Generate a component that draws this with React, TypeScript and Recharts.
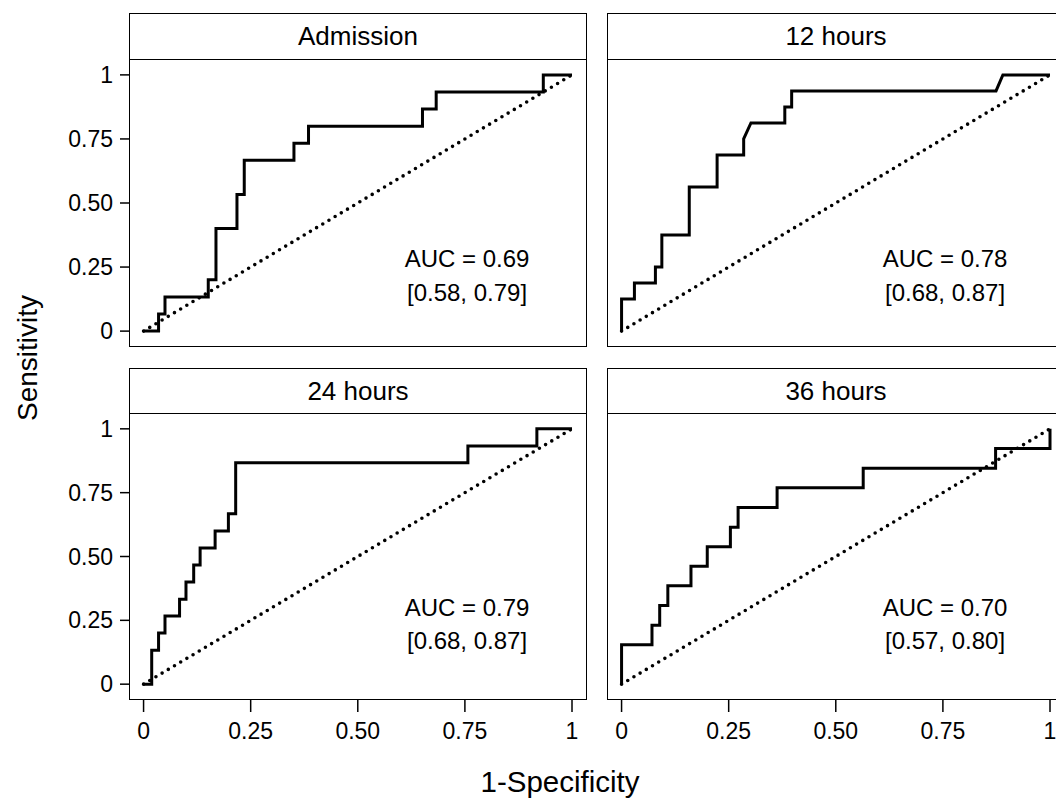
import React from 'react';
import { LineChart, Line, XAxis, YAxis, ReferenceDot } from 'recharts';

const FONT = '"Liberation Sans", Arial, Helvetica, sans-serif';

// panel titles and annotation text
const panelTitles = ['Admission', '12 hours', '24 hours', '36 hours'];
const aucLabels = ['AUC = 0.69', 'AUC = 0.78', 'AUC = 0.79', 'AUC = 0.70'];
const ciLabels = ['[0.58, 0.79]', '[0.68, 0.87]', '[0.68, 0.87]', '[0.57, 0.80]'];

// shared ticks for both axes
const axisTicks = [0, 0.25, 0.5, 0.75, 1];
const tickLabels = ['0', '0.25', '0.50', '0.75', '1'];

// ROC curves: 1-specificity (x) vs sensitivity (y)
const admissionX = [0, 0.035, 0.035, 0.05, 0.05, 0.151, 0.151, 0.169, 0.169, 0.218, 0.218, 0.235, 0.235, 0.351, 0.351, 0.385, 0.385, 0.651, 0.651, 0.683, 0.683, 0.933, 0.933, 1];
const admissionY = [0, 0, 0.067, 0.067, 0.133, 0.133, 0.2, 0.2, 0.4, 0.4, 0.533, 0.533, 0.667, 0.667, 0.733, 0.733, 0.8, 0.8, 0.867, 0.867, 0.933, 0.933, 1, 1];

const h12X = [0, 0, 0.03, 0.03, 0.079, 0.079, 0.094, 0.094, 0.158, 0.158, 0.223, 0.223, 0.285, 0.285, 0.302, 0.381, 0.381, 0.397, 0.397, 0.874, 0.89, 1];
const h12Y = [0, 0.125, 0.125, 0.1875, 0.1875, 0.25, 0.25, 0.375, 0.375, 0.5625, 0.5625, 0.6875, 0.6875, 0.75, 0.8125, 0.8125, 0.875, 0.875, 0.9375, 0.9375, 1, 1];

const h24X = [0, 0.019, 0.019, 0.035, 0.035, 0.05, 0.05, 0.084, 0.084, 0.099, 0.099, 0.117, 0.117, 0.132, 0.132, 0.167, 0.167, 0.198, 0.198, 0.215, 0.215, 0.757, 0.757, 0.918, 0.918, 1];
const h24Y = [0, 0, 0.133, 0.133, 0.2, 0.2, 0.267, 0.267, 0.333, 0.333, 0.4, 0.4, 0.467, 0.467, 0.533, 0.533, 0.6, 0.6, 0.667, 0.667, 0.867, 0.867, 0.933, 0.933, 1, 1];

const h36X = [0, 0, 0.071, 0.071, 0.089, 0.089, 0.108, 0.108, 0.162, 0.162, 0.2, 0.2, 0.254, 0.254, 0.272, 0.272, 0.363, 0.363, 0.564, 0.564, 0.873, 0.873, 1, 1];
const h36Y = [0, 0.154, 0.154, 0.231, 0.231, 0.308, 0.308, 0.385, 0.385, 0.462, 0.462, 0.538, 0.538, 0.615, 0.615, 0.692, 0.692, 0.769, 0.769, 0.846, 0.846, 0.923, 0.923, 1];

// reference diagonal
const chanceX = [0, 1];
const chanceY = [0, 1];

const zip = (xs: number[], ys: number[]) => xs.map((x, i) => ({ x, y: ys[i] }));
const chance = zip(chanceX, chanceY);

const X_DOMAIN: [number, number] = [-0.034, 1.035];
const Y_DOMAIN: [number, number] = [-0.062, 1.062];
const PLOT_W = 458;
const Y_AXIS_W = 129;
const X_AXIS_H = 60;

interface PanelProps {
  title: string;
  points: { x: number; y: number }[];
  auc: string;
  ci: string;
  left: number;
  headerTop: number;
  plotTop: number;
  plotH: number;
  showY: boolean;
  showX: boolean;
  textY: [number, number];
}

function Panel({ title, points, auc, ci, left, headerTop, plotTop, plotH, showY, showX, textY }: PanelProps) {
  const yW = showY ? Y_AXIS_W : 0;
  const xH = showX ? X_AXIS_H : 0;
  const tickStyle = { fill: '#000', fontSize: 23, fontFamily: FONT };
  const labelStyle = { fontSize: 24, fill: '#000', fontFamily: FONT };
  return (
    <>
      <div
        style={{
          position: 'absolute',
          left,
          top: headerTop,
          width: PLOT_W,
          height: plotTop - headerTop + 1,
          border: '1.7px solid #000',
          boxSizing: 'border-box',
          display: 'flex',
          alignItems: 'center',
          justifyContent: 'center',
          fontSize: 26,
          color: '#000',
        }}
      >
        {title}
      </div>
      <div style={{ position: 'absolute', left: left - yW, top: plotTop }}>
        <LineChart width={yW + PLOT_W} height={plotH + xH} margin={{ top: 0, right: 0, bottom: 0, left: 0 }}>
          <XAxis
            type="number"
            dataKey="x"
            domain={X_DOMAIN}
            ticks={axisTicks}
            allowDataOverflow
            hide={!showX}
            height={xH}
            axisLine={false}
            tickSize={12}
            tickMargin={11}
            tickLine={{ stroke: '#000', strokeWidth: 1.5 }}
            tick={tickStyle}
            tickFormatter={(v: number) => tickLabels[axisTicks.indexOf(v)] ?? String(v)}
            interval={0}
          />
          <YAxis
            type="number"
            dataKey="y"
            domain={Y_DOMAIN}
            ticks={axisTicks}
            allowDataOverflow
            hide={!showY}
            width={yW}
            axisLine={false}
            tickSize={9}
            tickMargin={7}
            tickLine={{ stroke: '#000', strokeWidth: 1.5 }}
            tick={tickStyle}
            tickFormatter={(v: number) => tickLabels[axisTicks.indexOf(v)] ?? String(v)}
            interval={0}
          />
          <Line
            data={chance}
            dataKey="y"
            type="linear"
            stroke="#000"
            strokeWidth={3.6}
            strokeDasharray="0 7.2"
            strokeLinecap="round"
            dot={false}
            isAnimationActive={false}
          />
          <Line
            data={points}
            dataKey="y"
            type="linear"
            stroke="#000"
            strokeWidth={3}
            dot={false}
            isAnimationActive={false}
          />
          <ReferenceDot x={0.755} y={textY[0]} r={0} fill="none" stroke="none" label={{ value: auc, position: 'center', ...labelStyle }} />
          <ReferenceDot x={0.755} y={textY[1]} r={0} fill="none" stroke="none" label={{ value: ci, position: 'center', ...labelStyle }} />
        </LineChart>
      </div>
      <div
        style={{
          position: 'absolute',
          left,
          top: plotTop,
          width: PLOT_W,
          height: plotH,
          border: '1.7px solid #000',
          boxSizing: 'border-box',
          pointerEvents: 'none',
        }}
      />
    </>
  );
}

export default function App() {
  const curves = [zip(admissionX, admissionY), zip(h12X, h12Y), zip(h24X, h24Y), zip(h36X, h36Y)];
  const lefts = [129, 607, 129, 607];
  const headerTops = [13, 13, 368, 368];
  const plotTops = [59, 59, 413, 413];
  const plotHs = [288, 288, 287, 287];
  const textYs: [number, number][] = [
    [0.282, 0.152],
    [0.282, 0.152],
    [0.3, 0.17],
    [0.3, 0.17],
  ];
  return (
    <div
      style={{
        position: 'absolute',
        left: 0,
        top: 0,
        width: 1056,
        height: 801,
        overflow: 'hidden',
        background: '#fff',
        fontFamily: FONT,
        color: '#000',
      }}
    >
      {curves.map((pts, i) => (
        <Panel
          key={panelTitles[i]}
          title={panelTitles[i]}
          points={pts}
          auc={aucLabels[i]}
          ci={ciLabels[i]}
          left={lefts[i]}
          headerTop={headerTops[i]}
          plotTop={plotTops[i]}
          plotH={plotHs[i]}
          showY={i % 2 === 0}
          showX={i >= 2}
          textY={textYs[i]}
        />
      ))}
      <div
        style={{
          position: 'absolute',
          left: 28,
          top: 358,
          transform: 'translate(-50%, -50%) rotate(-90deg)',
          fontSize: 28,
          lineHeight: '28px',
          whiteSpace: 'nowrap',
        }}
      >
        Sensitivity
      </div>
      <div
        style={{
          position: 'absolute',
          left: 560,
          top: 768,
          transform: 'translateX(-50%)',
          fontSize: 29.5,
          lineHeight: '28px',
          whiteSpace: 'nowrap',
        }}
      >
        1-Specificity
      </div>
    </div>
  );
}
